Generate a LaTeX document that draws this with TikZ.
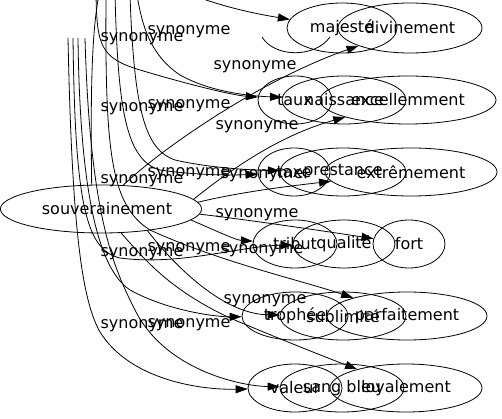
\documentclass[tikz,border=0pt]{standalone}
\usepackage{fontspec}
\setmainfont{DejaVu Sans}
\usetikzlibrary{arrows.meta,shapes.geometric}
\begin{document}
\begin{tikzpicture}[x=1pt,y=-1pt,
  ell/.style={draw, ellipse, inner sep=0pt, minimum height=48pt, line width=0.8pt, font=\fontsize{16}{19}\selectfont},
  lab/.style={inner sep=0pt, font=\fontsize{16}{19}\selectfont},
  e/.style={draw, line width=0.8pt, -{Triangle[length=12pt,width=8pt]}},
  ln/.style={draw, line width=0.8pt}]
\useasboundingbox (0,0) rectangle (502,419);
\clip (0,0) rectangle (502,419);
% nodes
\node[ell, minimum width=192pt] (souv) at (101,209) {\hspace*{12pt}souverainement};
\node[ell, minimum width=110pt, minimum height=50pt] (maj) at (342,28) {majesté};
\node[ell, minimum width=144pt, minimum height=50pt] (divin) at (410,28) {divinement};
\node[ell, minimum width=74pt] (taux) at (295,100) {taux};
\node[ell, minimum width=124pt] (naiss) at (344,100) {naissance};
\node[ell, minimum width=176pt] (excel) at (408,100) {excellemment};
\node[ell, minimum width=72pt] (taxe) at (294,172) {taxe};
\node[ell, minimum width=126pt] (prest) at (343,172) {prestance};
\node[ell, minimum width=172pt] (extrem) at (411,172) {extrêmement};
\node[ell, minimum width=84pt] (tribut) at (295,244) {tribut};
\node[ell, minimum width=102pt] (qual) at (344,244) {qualité};
\node[ell, minimum width=72pt] (fort) at (409,244) {fort};
\node[ell, minimum width=106pt] (troph) at (295,316) {trophée};
\node[ell, minimum width=126pt] (sublim) at (343,316) {sublimité};
\node[ell, minimum width=160pt] (parf) at (407,316) {parfaitement};
\node[ell, minimum width=94pt] (val) at (295,388) {valeur};
\node[ell, minimum width=124pt] (sang) at (342,388) {sang bleu};
\node[ell, minimum width=152pt] (loyal) at (406,388) {loyalement};
% free ends
\coordinate (t1) at (96,-5);
\coordinate (t2) at (137,-5);
\coordinate (t3) at (115,-5);
\coordinate (t4) at (130,-5);
\coordinate (t5) at (106,-5);
\coordinate (v1) at (68,38);
\coordinate (v2) at (73,38);
\coordinate (v3) at (78,38);
\coordinate (v4) at (85,38);
\coordinate (a1) at (262,37);
\coordinate (a2) at (330,37);
% edges
\draw[e] (souv.111) .. controls (90,60) and (92,-40) .. (120,-40) .. controls (150,-25) and (190,3) .. (maj);
\draw[e] (souv.47) .. controls (160,150) and (260,80) .. (divin);
\draw[e] (t1) .. controls (97,45) and (100,58) .. (140,70) .. controls (180,82) and (230,95) .. (taux);
\draw[e] (t2) .. controls (142,25) and (150,55) .. (180,75) .. controls (210,92) and (250,96) .. (naiss);
\draw[e] (souv.6) .. controls (230,170) and (280,135) .. (excel);
\draw[e] (t3) .. controls (118,110) and (126,160) .. (160,170) .. controls (200,176) and (240,175) .. (taxe);
\draw[e] (t4) .. controls (134,110) and (145,150) .. (175,160) .. controls (210,168) and (250,170) .. (prest);
\draw[e] (souv.4) .. controls (240,192) and (290,186) .. (extrem);
\draw[e] (souv.-7) .. controls (210,228) and (235,240) .. (tribut);
\draw[e] (v2) .. controls (75,200) and (85,250) .. (120,258) .. controls (180,266) and (240,246) .. (qual);
\draw[e] (souv.-3) .. controls (250,220) and (330,232) .. (fort);
\draw[e] (v3) .. controls (80,200) and (100,270) .. (130,290) .. controls (170,312) and (220,317) .. (troph);
\draw[e] (souv.-25) .. controls (170,260) and (220,314) .. (sublim);
\draw[e] (t5) .. controls (105,150) and (110,205) .. (150,230) .. controls (220,262) and (300,280) .. (parf);
\draw[e] (v1) .. controls (72,230) and (82,300) .. (100,332) .. controls (130,380) and (200,390) .. (val);
\draw[e] (v4) .. controls (90,220) and (115,270) .. (135,310) .. controls (165,370) and (240,386) .. (sang);
\draw[e] (souv.-50) .. controls (145,260) and (170,290) .. (230,318) .. controls (270,335) and (320,355) .. (loyal);
\draw[ln] (a1) .. controls (275,58) and (315,58) .. (a2);
% labels
\node[lab] (l1) at (189,32) {synonyme};
\node[lab] (l2) at (142,39) {synonyme};
\node[lab] (l3) at (255,67) {synonyme};
\node[lab] (l4) at (142,109) {synonyme};
\node[lab] (l5) at (189,106) {synonyme};
\node[lab] (l6) at (257,127) {synonyme};
\node[lab] (l7) at (142,181) {synonyme};
\node[lab] (l8) at (189,174) {synonyme};
\node[lab] (l9) at (262,176) {synonyme};
\node[lab] (l10) at (257,215) {synonyme};
\node[lab] (l11) at (142,254) {synonyme};
\node[lab] (l12) at (189,249) {synonyme};
\node[lab] (l13) at (262,251) {synonyme};
\node[lab] (l14) at (265,301) {synonyme};
\node[lab] (l15) at (142,326) {synonyme};
\node[lab] (l16) at (189,325) {synonyme};
\end{tikzpicture}
\end{document}
